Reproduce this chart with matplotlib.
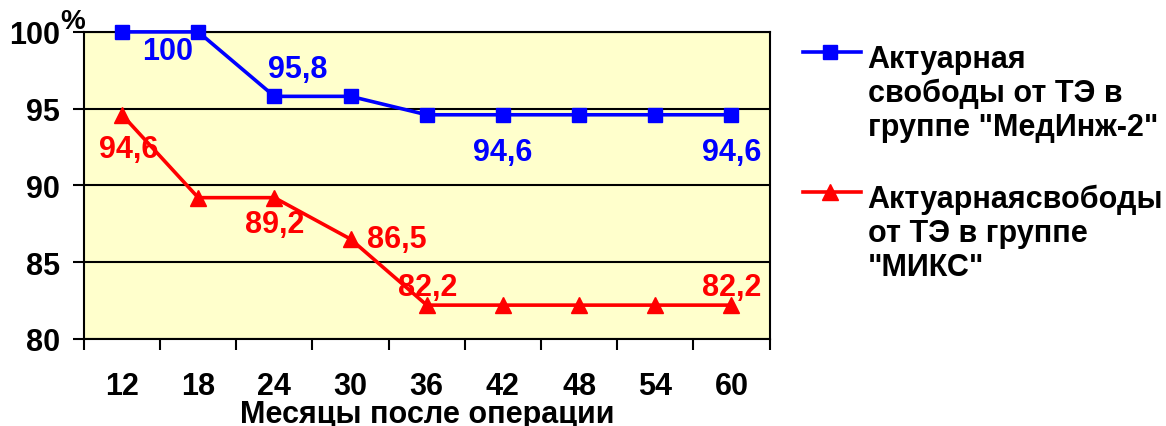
import matplotlib
matplotlib.use("Agg")
import matplotlib.pyplot as plt
from matplotlib.lines import Line2D

plt.rcParams["font.family"] = ["Liberation Sans", "DejaVu Sans"]
plt.rcParams["font.weight"] = "bold"

# данные
months = ["12", "18", "24", "30", "36", "42", "48", "54", "60"]
medinzh = [100, 100, 95.8, 95.8, 94.6, 94.6, 94.6, 94.6, 94.6]
miks = [94.6, 89.2, 89.2, 86.5, 82.2, 82.2, 82.2, 82.2, 82.2]
y_ticks = [80, 85, 90, 95, 100]

label_medinzh = 'Актуарная\nсвободы от ТЭ в\nгруппе "МедИнж-2"'
label_miks = 'Актуарнаясвободы\nот ТЭ в группе\n"МИКС"'
x_title = "Месяцы после операции"

# подписи значений: индекс точки и смещение подписи в пикселях
medinzh_labels = [(0, (46, -19)), (2, (23, 27)), (5, (0, -37)), (8, (0, -37))]
miks_labels = [(0, (7, -34)), (2, (0, -26)), (3, (46, 0)), (4, (1, 18)), (8, (0, 18))]

BLUE = "#0000FF"
RED = "#FF0000"
FS = 22

fig = plt.figure(figsize=(11.66, 4.27), dpi=100)
ax = fig.add_axes([0.072, 0.204, 0.588, 0.719])
ax.set_facecolor("#FFFFCC")

x = list(range(len(months)))
ax.plot(x, medinzh, color=BLUE, linewidth=2.6, marker="s",
        markersize=10.5, clip_on=False, zorder=4)
ax.plot(x, miks, color=RED, linewidth=2.6, marker="^",
        markersize=11, clip_on=False, zorder=4)


def fmt(v):
    return f"{v:g}".replace(".", ",")


for series, labels, color in ((medinzh, medinzh_labels, BLUE),
                              (miks, miks_labels, RED)):
    for i, off in labels:
        ax.annotate(fmt(series[i]), (x[i], series[i]), xytext=off,
                    textcoords="offset pixels", ha="center", va="center",
                    color=color, fontsize=FS, fontweight="bold", zorder=5)

ax.set_xlim(-0.5, len(months) - 0.5)
ax.set_ylim(80, 100)

# границы категорий — основные деления, подписи — по центрам
ax.set_xticks([i - 0.5 for i in range(len(months) + 1)])
ax.set_xticklabels([])
ax.set_xticks(x, minor=True)
ax.set_xticklabels(months, minor=True)
ax.tick_params(axis="x", which="major", direction="out", length=8, width=1.5)
ax.tick_params(axis="x", which="minor", length=0, pad=23, labelsize=FS)

ax.set_yticks(y_ticks)
ax.set_yticklabels([str(v) for v in y_ticks])
ax.tick_params(axis="y", direction="out", length=8, width=1.5, pad=9,
               labelsize=FS)
ax.yaxis.grid(True, color="black", linewidth=1.5)
ax.set_axisbelow(True)

for sp in ax.spines.values():
    sp.set_linewidth(1.5)

ax.annotate("%", (-0.5, 100), xytext=(-11, 11), textcoords="offset pixels",
            ha="center", va="center", fontsize=FS - 2, fontweight="bold",
            annotation_clip=False)

fig.text(0.366, 0.01, x_title, ha="center", va="baseline",
         fontsize=FS, fontweight="bold")

# легенда справа
legend_items = [(label_medinzh, BLUE, "s", 10.5, 0.875),
                (label_miks, RED, "^", 11, 0.548)]
for text, color, marker, ms, y in legend_items:
    fig.add_artist(Line2D([0.689, 0.738], [y, y], transform=fig.transFigure,
                          color=color, linewidth=2.6))
    fig.add_artist(Line2D([0.712], [y], transform=fig.transFigure,
                          color=color, marker=marker, markersize=ms))
    fig.text(0.744, y + 0.020, text, ha="left", va="top", fontsize=FS,
             fontweight="bold", linespacing=1.18)

fig.savefig("out.png", dpi=100)
